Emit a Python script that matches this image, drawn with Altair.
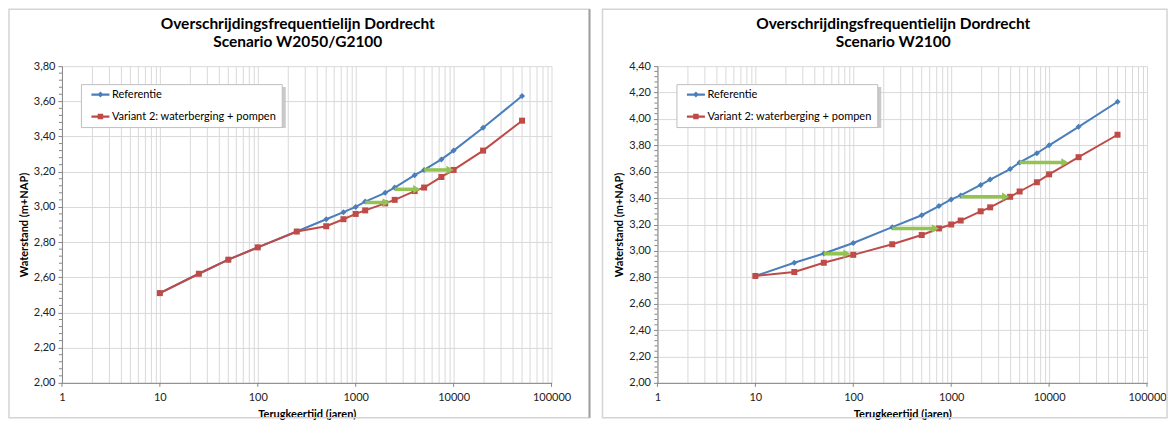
import altair as alt
import pandas as pd

# ---------------- data ----------------
T = [10, 25, 50, 100, 250, 500, 750, 1000, 1250, 2000, 2500, 4000, 5000, 7500, 10000, 20000, 50000]

S_REF = "Referentie"
S_VAR = "Variant 2: waterberging + pompen"

ref_a = [2.51, 2.62, 2.70, 2.77, 2.86, 2.93, 2.97, 3.00, 3.03, 3.08, 3.11, 3.18, 3.21, 3.27, 3.32, 3.45, 3.63]
var_a = [2.51, 2.62, 2.70, 2.77, 2.86, 2.89, 2.93, 2.96, 2.98, 3.02, 3.04, 3.09, 3.11, 3.17, 3.21, 3.32, 3.49]

ref_b = [2.81, 2.91, 2.98, 3.06, 3.18, 3.27, 3.34, 3.39, 3.42, 3.50, 3.54, 3.62, 3.67, 3.74, 3.80, 3.94, 4.13]
var_b = [2.81, 2.84, 2.91, 2.97, 3.05, 3.12, 3.17, 3.20, 3.23, 3.30, 3.33, 3.41, 3.45, 3.52, 3.58, 3.71, 3.88]

arrow_a_start = [1250, 2500, 5000]
arrow_a_end = [2050, 4200, 9200]
arrow_a_y = [3.025, 3.10, 3.21]

arrow_b_start = [50, 250, 1250, 5000]
arrow_b_end = [86, 690, 3600, 14500]
arrow_b_y = [2.978, 3.17, 3.41, 3.67]

title_a = ["Overschrijdingsfrequentielijn Dordrecht", "Scenario W2050/G2100"]
title_b = ["Overschrijdingsfrequentielijn Dordrecht", "Scenario W2100"]

x_title = "Terugkeertijd (jaren)"
y_title = "Waterstand (m+NAP)"

decades = [1, 10, 100, 1000, 10000, 100000]
x_grid = [m * d for d in [1, 10, 100, 1000, 10000] for m in range(1, 10)] + [100000]

BLUE = "#4a7ebb"
RED = "#be4b48"
GREEN = "#92c353"
AXIS = "#868686"
GRID = "#d9d9d9"
FONT = "Lato"

path_ref = "M-1.8,-0.22H1.8V0.22H-1.8Z M0,-0.6L0.6,0L0,0.6L-0.6,0Z"
path_var = "M-1.8,-0.22H1.8V0.22H-1.8Z M-0.55,-0.55H0.55V0.55H-0.55Z"


def panel(ref, var, y_max, title, a_start, a_end, a_y, frame_left, frame_right, right_dark):
    n = len(T)
    df = pd.DataFrame({"T": T * 2, "h": ref + var, "series": [S_REF] * n + [S_VAR] * n})
    df_ref = df[df.series == S_REF]
    df_var = df[df.series == S_VAR]

    y_major = [round(2.0 + 0.2 * i, 2) for i in range(int(round((y_max - 2.0) / 0.2)) + 1)]
    y_minor = [round(2.0 + 0.04 * i, 2) for i in range(int(round((y_max - 2.0) / 0.04)) + 1)]
    y_minor = [v for v in y_minor if v not in y_major]

    xs = alt.Scale(type="log", domain=[1, 100000], nice=False)
    ys = alt.Scale(domain=[2.0, y_max], nice=False, zero=False)

    x_axis = alt.Axis(
        values=x_grid, grid=True, ticks=False, labelFlush=False, labelOverlap=False,
        labelExpr="indexof([1,10,100,1000,10000,100000], datum.value) >= 0 ? format(datum.value, 'd') : ''",
        labelPadding=9, titlePadding=6,
    )
    y_axis = alt.Axis(
        values=y_major, grid=True, tickSize=4, labelOverlap=False, labelFlush=False,
        labelExpr="replace(format(datum.value, '.2f'), '.', ',')",
        labelPadding=3, titlePadding=4,
    )

    def X(field):
        return alt.X(field, scale=xs, title=x_title, axis=x_axis)

    def Y(field):
        return alt.Y(field, scale=ys, title=y_title, axis=y_axis)

    one = alt.Data(values=[{}])
    frame = alt.Chart(one).mark_rect(fillOpacity=0, stroke="#d4d4d4", strokeWidth=1.5).encode(
        x=alt.value(frame_left), x2=alt.value(frame_right), y=alt.value(-57), y2=alt.value(352)
    )
    layers = [frame]
    if right_dark:
        layers.append(
            alt.Chart(one).mark_rule(color="#a0a0a0", strokeWidth=2).encode(
                x=alt.value(frame_right), y=alt.value(-57), y2=alt.value(352)
            )
        )

    minor = alt.Chart(pd.DataFrame({"h": y_minor})).mark_rule(color=AXIS, strokeWidth=1).encode(
        y=Y("h:Q"), x=alt.value(-3), x2=alt.value(0)
    )
    xticks = alt.Chart(pd.DataFrame({"T": decades})).mark_rule(color=AXIS, strokeWidth=1).encode(
        x=X("T:Q"), y=alt.value(317), y2=alt.value(321)
    )

    blue_line = alt.Chart(df_ref).mark_line(color=BLUE, strokeWidth=2).encode(x=X("T:Q"), y=Y("h:Q"))
    blue_pts = alt.Chart(df_ref).mark_point(shape="diamond", filled=True, color=BLUE, size=36, opacity=1).encode(
        x=X("T:Q"), y=Y("h:Q")
    )
    red_line = alt.Chart(df_var).mark_line(color=RED, strokeWidth=2).encode(x=X("T:Q"), y=Y("h:Q"))
    red_pts = alt.Chart(df_var).mark_point(shape="square", filled=True, color=RED, size=36, opacity=1).encode(
        x=X("T:Q"), y=Y("h:Q")
    )

    adf = pd.DataFrame({"T": a_start, "T2": a_end, "h": a_y})
    arrow_body = alt.Chart(adf).mark_rule(color=GREEN, strokeWidth=3.5).encode(
        x=X("T:Q"), x2="T2:Q", y=Y("h:Q")
    )
    arrow_head = alt.Chart(adf).mark_point(shape="triangle-right", filled=True, color=GREEN, size=70, opacity=1).encode(
        x=X("T2:Q"), y=Y("h:Q")
    )

    shadow = alt.Chart(one).mark_rect(color="#c4c4c4", opacity=0.9).encode(
        x=alt.value(23), x2=alt.value(224), y=alt.value(21), y2=alt.value(62)
    )

    legend = alt.Legend(
        title=None, orient="none", legendX=19, legendY=18, direction="vertical",
        fillColor="white", strokeColor="#bfbfbf", padding=5,
        symbolSize=100, symbolOffset=9, labelOffset=6, rowPadding=10,
        symbolStrokeWidth=0, symbolOpacity=1, labelFont=FONT, labelFontSize=11,
        labelColor="#000000", labelLimit=0,
    )
    leg_layer = alt.Chart(df).mark_point(filled=True, opacity=0, size=1).encode(
        x=X("T:Q"), y=Y("h:Q"),
        color=alt.Color("series:N", scale=alt.Scale(domain=[S_REF, S_VAR], range=[BLUE, RED]), legend=legend),
        shape=alt.Shape("series:N", scale=alt.Scale(domain=[S_REF, S_VAR], range=[path_ref, path_var]), legend=legend),
    )

    layers += [blue_line, minor, xticks, shadow, blue_pts, red_line, red_pts, arrow_body, arrow_head, leg_layer]
    return alt.layer(*layers).properties(
        width=490, height=317,
        title=alt.TitleParams(
            text=title, font=FONT, fontSize=15.5, fontWeight="bold", color="#000000",
            anchor="middle", dx=-9, offset=-42, lineHeight=18, frame="group",
        ),
    )


left = panel(ref_a, var_a, 3.8, title_a, arrow_a_start, arrow_a_end, arrow_a_y, -53, 528, True)
right = panel(ref_b, var_b, 4.4, title_b, arrow_b_start, arrow_b_end, arrow_b_y, -55, 510, False)

chart = alt.hconcat(left, right, spacing=106, bounds="flush").resolve_scale(
    x="independent", y="independent", color="independent", shape="independent"
).resolve_legend(color="independent", shape="independent").properties(padding=0).configure_view(
    stroke=None
).configure_axis(
    labelFont=FONT, labelFontSize=11, labelColor="#222222",
    titleFont=FONT, titleFontSize=11, titleFontWeight="bold", titleColor="#000000",
    domainColor=AXIS, tickColor=AXIS, gridColor=GRID, gridWidth=1,
).configure_legend(symbolStrokeWidth=0)

chart.save("out.html", embed_options={"renderer": "svg", "actions": False})
